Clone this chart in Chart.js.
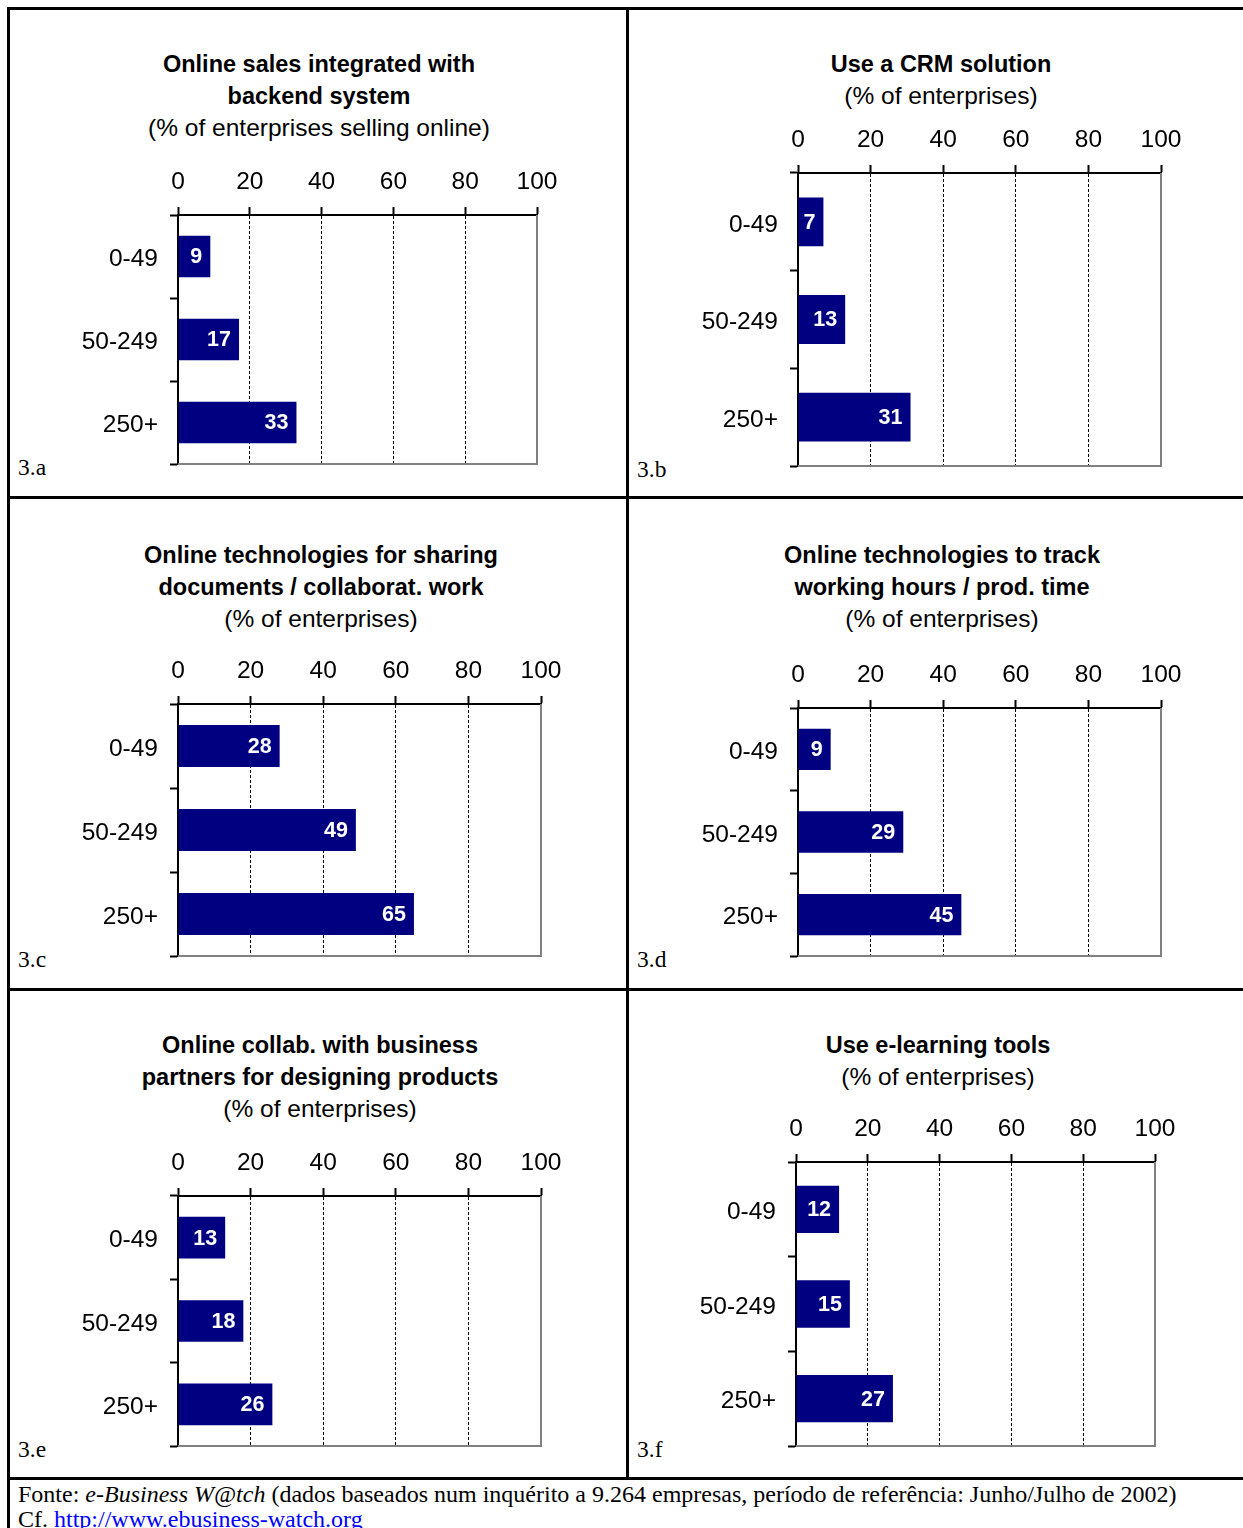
<!DOCTYPE html>
<html>
<head>
<meta charset="utf-8">
<script src="https://cdn.jsdelivr.net/npm/chart.js@4.4.0/dist/chart.umd.min.js"></script>
<style>
  body { margin: 0; background: #fff; }
  #page { position: relative; width: 1243px; height: 1528px; overflow: hidden; font-family: 'Liberation Sans', Arial, sans-serif; color: #000; }
  .rule { position: absolute; background: #000; }
  .title { position: absolute; width: 600px; text-align: center; line-height: 32px; font-size: 24.5px; }
  .title .head { font-weight: bold; font-size: 23.5px; }
  .tag { position: absolute; font-family: 'Liberation Serif', 'Times New Roman', serif; font-size: 23.5px; line-height: 24px; }
  #foot { position: absolute; left: 18px; top: 1482px; font-family: 'Liberation Serif', 'Times New Roman', serif; font-size: 24px; line-height: 25px; white-space: nowrap; }
  #foot a { color: #0000ff; }
  canvas { position: absolute; }
</style>
</head>
<body>
<div id="page"></div>
<script>
// size classes (number of employees)
const sizeBands = ['0-49', '50-249', '250+'];
const axisTicks = [0, 20, 40, 60, 80, 100];

// % values
const salesBackend = [9, 17, 33];
const crmUse = [7, 13, 31];
const docSharing = [28, 49, 65];
const trackHours = [9, 29, 45];
const designCollab = [13, 18, 26];
const eLearning = [12, 15, 27];

const panelTags = ['3.a', '3.b', '3.c', '3.d', '3.e', '3.f'];
const panelHeads = [
  ['Online sales integrated with', 'backend system'],
  ['Use a CRM solution'],
  ['Online technologies for sharing', 'documents / collaborat. work'],
  ['Online technologies to track', 'working hours / prod. time'],
  ['Online collab. with business', 'partners for designing products'],
  ['Use e-learning tools']
];
const panelSubs = [
  '(% of enterprises selling online)',
  '(% of enterprises)',
  '(% of enterprises)',
  '(% of enterprises)',
  '(% of enterprises)',
  '(% of enterprises)'
];
const panelValues = [salesBackend, crmUse, docSharing, trackHours, designCollab, eLearning];

// layout: plot area [left, top, right, bottom], title centre/first line, tag position
const layout = [
  { plot: [178, 215, 537, 464], tx: 319, ty: 64, tag: [18, 455] },
  { plot: [798, 173, 1161, 466], tx: 941, ty: 64, tag: [637, 457] },
  { plot: [178, 704, 541, 956], tx: 321, ty: 555, tag: [18, 947] },
  { plot: [798, 708, 1161, 956], tx: 942, ty: 555, tag: [637, 947] },
  { plot: [178, 1196, 541, 1446], tx: 320, ty: 1045, tag: [18, 1437] },
  { plot: [796, 1162, 1155, 1446], tx: 938, ty: 1045, tag: [637, 1437] }
];

const page = document.getElementById('page');

function rule(x, y, w, h) {
  const d = document.createElement('div');
  d.className = 'rule';
  d.style.cssText = `left:${x}px;top:${y}px;width:${w}px;height:${h}px`;
  page.appendChild(d);
}
// table frame
rule(7, 7, 1243, 3);
rule(7, 7, 3, 1528);
rule(626, 7, 3, 1473);
rule(7, 496, 1243, 3);
rule(7, 988, 1243, 3);
rule(7, 1477, 1243, 3);

const foot = document.createElement('div');
foot.id = 'foot';
foot.innerHTML = 'Fonte: <i>e-Business W@tch</i> (dados baseados num inquérito a 9.264 empresas, período de referência: Junho/Julho de 2002)<br>Cf. <a href="#">http://www.ebusiness-watch.org</a>';
page.appendChild(foot);

// white value labels at the bar ends
const barLabels = {
  id: 'barLabels',
  afterDatasetsDraw(chart) {
    const ctx = chart.ctx;
    const meta = chart.getDatasetMeta(0);
    ctx.save();
    ctx.fillStyle = '#fff';
    ctx.font = 'bold 21.5px "Liberation Sans", Arial, sans-serif';
    ctx.textAlign = 'right';
    ctx.textBaseline = 'middle';
    meta.data.forEach((bar, i) => {
      ctx.fillText(chart.data.datasets[0].data[i], bar.x - 8, bar.y + 1);
    });
    ctx.restore();
  }
};

// grey right / bottom edge of the plot area
const plotEdge = {
  id: 'plotEdge',
  beforeDatasetsDraw(chart) {
    const a = chart.chartArea;
    const ctx = chart.ctx;
    ctx.save();
    ctx.strokeStyle = '#808080';
    ctx.lineWidth = 2;
    ctx.beginPath();
    ctx.moveTo(a.right, a.top);
    ctx.lineTo(a.right, a.bottom);
    ctx.lineTo(a.left, a.bottom);
    ctx.stroke();
    ctx.restore();
  }
};

const AXIS_W = 170, AXIS_H = 80, PAD_R = 40, PAD_B = 20;
const tickFont = { family: "'Liberation Sans', Arial, sans-serif", size: 24.5 };

layout.forEach((p, k) => {
  const [L, T, R, B] = p.plot;

  const t = document.createElement('div');
  t.className = 'title';
  t.style.left = (p.tx - 300) + 'px';
  t.style.top = (p.ty - 16) + 'px';
  t.innerHTML = panelHeads[k].map(s => `<div class="head">${s}</div>`).join('') + `<div>${panelSubs[k]}</div>`;
  page.appendChild(t);

  const tag = document.createElement('div');
  tag.className = 'tag';
  tag.style.left = p.tag[0] + 'px';
  tag.style.top = p.tag[1] + 'px';
  tag.textContent = panelTags[k];
  page.appendChild(tag);

  const cv = document.createElement('canvas');
  const w = R - L + AXIS_W + PAD_R;
  const h = B - T + AXIS_H + PAD_B;
  cv.width = w; cv.height = h;
  cv.style.left = (L - AXIS_W) + 'px';
  cv.style.top = (T - AXIS_H) + 'px';
  cv.style.width = w + 'px';
  cv.style.height = h + 'px';
  page.appendChild(cv);

  new Chart(cv.getContext('2d'), {
    type: 'bar',
    data: {
      labels: sizeBands,
      datasets: [{
        data: panelValues[k],
        backgroundColor: '#000080',
        borderWidth: 0,
        categoryPercentage: 1,
        barPercentage: 0.5
      }]
    },
    options: {
      indexAxis: 'y',
      responsive: false,
      animation: false,
      devicePixelRatio: 1,
      layout: { padding: { left: 0, top: 0, right: PAD_R, bottom: PAD_B } },
      plugins: { legend: { display: false }, tooltip: { enabled: false } },
      scales: {
        x: {
          position: 'top',
          min: axisTicks[0],
          max: axisTicks[axisTicks.length - 1],
          afterFit: s => { s.height = AXIS_H; s.paddingLeft = 0; s.paddingRight = 0; },
          afterBuildTicks: s => { s.ticks = axisTicks.map(v => ({ value: v })); },
          ticks: { color: '#000', font: tickFont, padding: 10, maxRotation: 0 },
          grid: {
            color: ctx => (ctx.tick && (ctx.tick.value === 0 || ctx.tick.value === 100)) ? 'rgba(0,0,0,0)' : '#000',
            lineWidth: 1,
            tickLength: 8,
            tickColor: '#000',
            tickWidth: 2
          },
          border: { display: true, color: '#000', width: 2, dash: [3, 2] }
        },
        y: {
          afterFit: s => { s.width = AXIS_W; s.paddingTop = 0; s.paddingBottom = 0; },
          ticks: { color: '#000', font: tickFont, padding: 12, labelOffset: 3 },
          grid: {
            offset: true,
            drawOnChartArea: false,
            tickLength: 8,
            tickColor: '#000',
            tickWidth: 2
          },
          border: { display: true, color: '#000', width: 2 }
        }
      }
    },
    plugins: [plotEdge, barLabels]
  });
});
</script>
</body>
</html>
